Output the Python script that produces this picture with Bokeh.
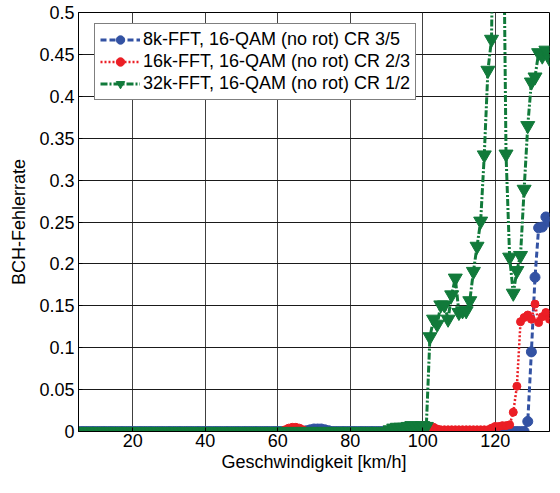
from bokeh.plotting import figure
from bokeh.models import Range1d, FixedTicker, Legend, LegendItem
from bokeh.embed import file_html
from bokeh.resources import INLINE

# speed grid [km/h], one measurement per km/h
speed = list(range(5, 136))

# 8k-FFT, 16-QAM (no rot) CR 3/5
ber_8k = [
    0, 0, 0, 0, 0, 0, 0, 0, 0, 0,                 # 5-14
    0, 0, 0, 0, 0, 0, 0, 0, 0, 0,                 # 15-24
    0, 0, 0, 0, 0, 0, 0, 0, 0, 0,                 # 25-34
    0, 0, 0, 0, 0, 0, 0, 0, 0, 0,                 # 35-44
    0, 0, 0, 0, 0, 0, 0, 0, 0, 0,                 # 45-54
    0, 0, 0, 0, 0, 0, 0, 0, 0, 0,                 # 55-64
    0, 0, 0, 0.001, 0.002, 0.003, 0.003, 0.003, 0.002, 0.001,   # 65-74
    0, 0, 0, 0, 0, 0, 0, 0, 0, 0,                 # 75-84
    0, 0, 0, 0, 0, 0, 0, 0, 0, 0,                 # 85-94
    0, 0, 0, 0, 0, 0, 0, 0, 0, 0,                 # 95-104
    0, 0, 0, 0, 0, 0, 0, 0, 0, 0,                 # 105-114
    0, 0, 0, 0, 0, 0, 0, 0, 0, 0,                 # 115-124
    0, 0, 0, 0, 0.012, 0.095, 0.184, 0.243, 0.244, 0.256,       # 125-134
    0.250,                                        # 135
]

# 16k-FFT, 16-QAM (no rot) CR 2/3
ber_16k = [
    0, 0, 0, 0, 0, 0, 0, 0, 0, 0,                 # 5-14
    0, 0, 0, 0, 0, 0, 0, 0, 0, 0,                 # 15-24
    0, 0, 0, 0, 0, 0, 0, 0, 0, 0,                 # 25-34
    0, 0, 0, 0, 0, 0, 0, 0, 0, 0,                 # 35-44
    0, 0, 0, 0, 0, 0, 0, 0, 0, 0,                 # 45-54
    0, 0, 0, 0, 0, 0, 0, 0.002, 0.004, 0.005,     # 55-64
    0.005, 0.004, 0.002, 0, 0, 0, 0, 0, 0, 0,     # 65-74
    0, 0, 0, 0, 0, 0, 0, 0, 0, 0,                 # 75-84
    0, 0, 0, 0, 0, 0, 0, 0, 0, 0,                 # 85-94
    0, 0, 0.002, 0.004, 0.006, 0.007, 0.007, 0.006, 0.005, 0.003,   # 95-104
    0.002, 0.002, 0.002, 0.002, 0.002, 0.002, 0.002, 0.002, 0.002, 0.002,  # 105-114
    0.002, 0.002, 0.002, 0.002, 0.004, 0.006, 0.006, 0.007, 0.007, 0.008,  # 115-124
    0.023, 0.054, 0.131, 0.136, 0.139, 0.134, 0.152, 0.130, 0.137, 0.142,  # 125-134
    0.134,                                        # 135
]

# 32k-FFT, 16-QAM (no rot) CR 1/2
ber_32k = [
    0, 0, 0, 0, 0, 0, 0, 0, 0, 0,                 # 5-14
    0, 0, 0, 0, 0, 0, 0, 0, 0, 0,                 # 15-24
    0, 0, 0, 0, 0, 0, 0, 0, 0, 0,                 # 25-34
    0, 0, 0, 0, 0, 0, 0, 0, 0, 0,                 # 35-44
    0, 0, 0, 0, 0, 0, 0, 0, 0, 0,                 # 45-54
    0, 0, 0, 0, 0, 0, 0, 0, 0, 0,                 # 55-64
    0, 0, 0, 0, 0, 0, 0, 0, 0, 0,                 # 65-74
    0, 0, 0, 0, 0, 0, 0, 0, 0, 0,                 # 75-84
    0, 0, 0, 0, 0, 0, 0.002, 0.004, 0.005, 0.005, # 85-94
    0.005, 0.006, 0.007, 0.006, 0.006, 0.007, 0.006, 0.113, 0.134, 0.128,  # 95-104
    0.151, 0.151, 0.134, 0.163, 0.183, 0.142, 0.144, 0.144, 0.156, 0.191,  # 105-114
    0.221, 0.251, 0.330, 0.431, 0.468, 0.80, 0.90, 0.75, 0.331, 0.208,     # 115-124
    0.165, 0.192, 0.210, 0.289, 0.365, 0.417, 0.423, 0.452, 0.448, 0.455,  # 125-134
    0.445,                                        # 135
]

labels = [
    "8k-FFT, 16-QAM (no rot) CR 3/5",
    "16k-FFT, 16-QAM (no rot) CR 2/3",
    "32k-FFT, 16-QAM (no rot) CR 1/2",
]

x_ticks = [20, 40, 60, 80, 100, 120]
y_ticks = [0, 0.05, 0.1, 0.15, 0.2, 0.25, 0.3, 0.35, 0.4, 0.45, 0.5]
y_tick_labels = ["0", "0.05", "0.1", "0.15", "0.2", "0.25", "0.3", "0.35", "0.4", "0.45", "0.5"]

BLUE = "#3352A3"
RED = "#EB1E25"
GREEN = "#117A3A"
FONT = "Liberation Sans"
FS = "18px"

p = figure(width=552, height=477, x_range=Range1d(5, 135), y_range=Range1d(0, 0.5),
           output_backend="svg", toolbar_location=None,
           min_border_left=78, min_border_right=3, min_border_top=12, min_border_bottom=46)

p.background_fill_color = "white"
p.border_fill_color = "white"
p.outline_line_color = "black"
p.outline_line_width = 1

p.xaxis.ticker = FixedTicker(ticks=x_ticks)
p.yaxis.ticker = FixedTicker(ticks=y_ticks)
p.xgrid.ticker = FixedTicker(ticks=x_ticks)
p.ygrid.ticker = FixedTicker(ticks=y_ticks)
p.yaxis.major_label_overrides = {t: s for t, s in zip(y_ticks, y_tick_labels)}
p.xgrid.grid_line_color = "#404040"
p.ygrid.grid_line_color = "#1a1a1a"
p.xgrid.grid_line_width = 1
p.ygrid.grid_line_width = 1

for ax in (p.xaxis, p.yaxis):
    ax.axis_line_color = "black"
    ax.major_tick_in = 4
    ax.major_tick_out = 0
    ax.minor_tick_line_color = None
    ax.major_label_text_font = FONT
    ax.major_label_text_font_size = FS
    ax.major_label_text_color = "black"
    ax.axis_label_text_font = FONT
    ax.axis_label_text_font_size = FS
    ax.axis_label_text_font_style = "normal"
    ax.axis_label_text_color = "black"

p.xaxis.axis_label = "Geschwindigkeit [km/h]"
p.yaxis.axis_label = "BCH-Fehlerrate"
p.xaxis.major_label_standoff = 2
p.xaxis.axis_label_standoff = 2
p.yaxis.major_label_standoff = 4
p.yaxis.axis_label_standoff = 7

l1 = p.line(speed, ber_8k, line_color=BLUE, line_width=3, line_dash="6 3")
m1 = p.scatter(speed, ber_8k, marker="circle", size=10, fill_color=BLUE, line_color=BLUE)
l2 = p.line(speed, ber_16k, line_color=RED, line_width=2.5, line_dash="2 2")
m2 = p.scatter(speed, ber_16k, marker="circle", size=8, fill_color=RED, line_color=RED)
l3 = p.line(speed, ber_32k, line_color=GREEN, line_width=3, line_dash="7 2 2 2")
m3 = p.scatter(speed, ber_32k, marker="inverted_triangle", size=14, fill_color=GREEN, line_color=GREEN)

legend = Legend(items=[
    LegendItem(label=labels[0], renderers=[l1, m1]),
    LegendItem(label=labels[1], renderers=[l2, m2]),
    LegendItem(label=labels[2], renderers=[l3, m3]),
], location=(16, 331))
legend.label_text_font = FONT
legend.label_text_font_size = FS
legend.label_text_color = "black"
legend.glyph_width = 40
legend.glyph_height = 21
legend.label_height = 21
legend.label_standoff = 3
legend.spacing = 1
legend.padding = 5
legend.margin = 0
legend.border_line_color = "black"
legend.border_line_width = 1
legend.background_fill_color = "white"
legend.background_fill_alpha = 1.0
p.add_layout(legend)

open("out.html", "w").write(file_html(p, INLINE))
